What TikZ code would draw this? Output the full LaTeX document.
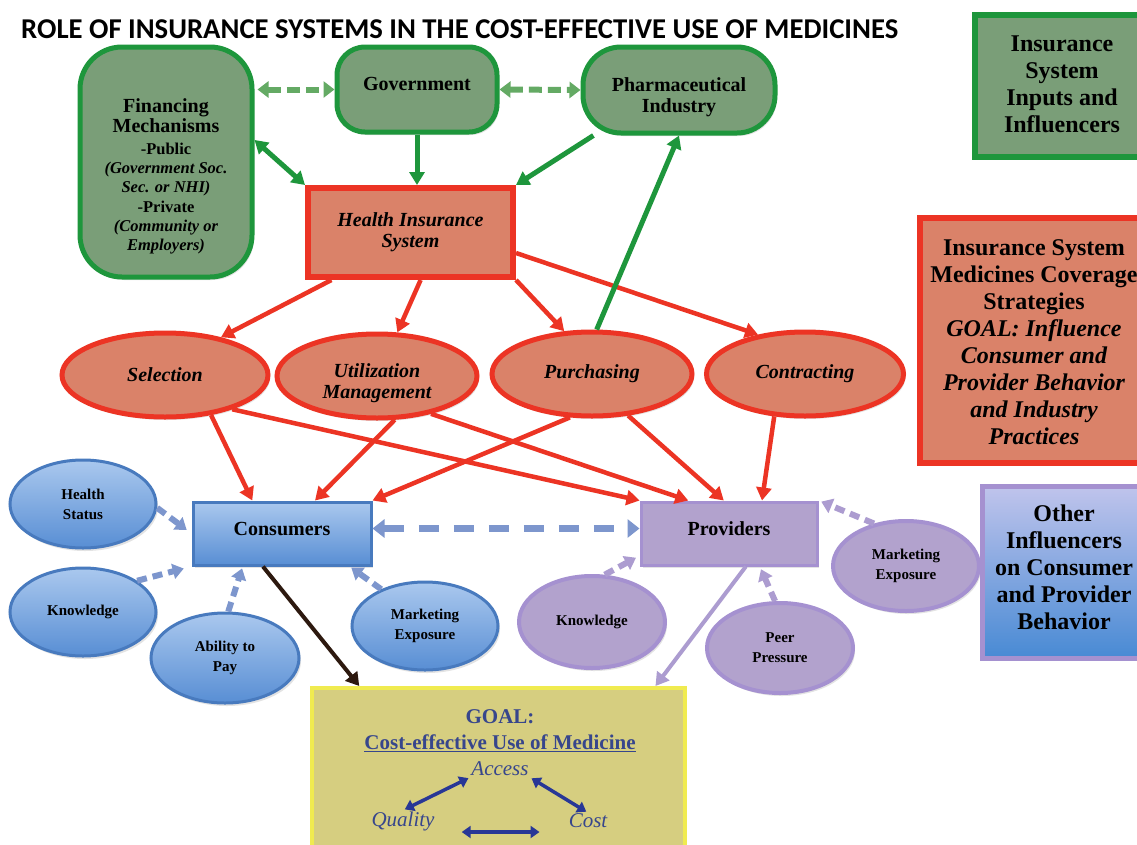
\documentclass[tikz,border=0pt]{standalone}
\usepackage{fontspec}
\setmainfont{Liberation Serif}
\newfontfamily\titlefont{Carlito}
\usetikzlibrary{arrows.meta,shapes.geometric,shadows}

\definecolor{grnF}{RGB}{122,158,120}
\definecolor{grnB}{RGB}{30,150,60}
\definecolor{grnD}{RGB}{100,170,100}
\definecolor{redF}{RGB}{218,130,105}
\definecolor{redB}{RGB}{236,52,36}
\definecolor{bluT}{RGB}{170,200,238}
\definecolor{bluM}{RGB}{88,142,212}
\definecolor{bluB}{RGB}{72,122,190}
\definecolor{purF}{RGB}{178,162,205}
\definecolor{purB}{RGB}{165,145,208}
\definecolor{purA}{RGB}{172,156,208}
\definecolor{dashB}{RGB}{125,150,205}
\definecolor{goalF}{RGB}{214,206,128}
\definecolor{goalB}{RGB}{240,235,80}
\definecolor{goalT}{RGB}{55,70,140}
\definecolor{goalA}{RGB}{40,55,150}
\definecolor{brn}{RGB}{45,25,15}
\definecolor{lgT}{RGB}{192,196,236}
\definecolor{lgB}{RGB}{72,138,212}

\newcommand\szM{\fontsize{20}{21}\selectfont}
\newcommand\szS{\fontsize{16.5}{19}\selectfont}
\newcommand\szE{\fontsize{15}{20}\selectfont}
\newcommand\szL{\fontsize{24}{27}\selectfont}
\newcommand\szG{\fontsize{21}{25}\selectfont}

\tikzset{
  shd/.style={drop shadow={shadow xshift=2pt,shadow yshift=-3pt,opacity=.22}},
  inbox/.style={draw=grnB, fill=grnF, line width=5pt, align=center, inner sep=0pt,
    font=\bfseries\szM, shd},
  txt/.style={align=center, inner sep=0pt},
  redell/.style={ellipse, draw=redB, fill=redF, line width=5pt, align=center,
    inner sep=0pt, font=\bfseries\itshape\szM, shd},
  bluell/.style={ellipse, draw=bluB, top color=bluT, bottom color=bluM, line width=3pt,
    align=center, inner sep=0pt, font=\bfseries\szE, shd},
  purell/.style={ellipse, draw=purB, fill=purF, line width=4pt,
    align=center, inner sep=0pt, font=\bfseries\szE, shd},
  redarr/.style={draw=redB, line width=4.5pt, -{Triangle[length=13pt,width=15pt]}},
  grnarr/.style={draw=grnB, line width=5pt, -{Triangle[length=13pt,width=15pt]}},
  grndash/.style={draw=grnD, line width=6pt, dash pattern=on 13pt off 6pt,
    {Triangle[length=11pt,width=16pt]}-{Triangle[length=11pt,width=16pt]}},
  bludash/.style={draw=dashB, line width=6pt, dash pattern=on 10pt off 6pt,
    -{Triangle[length=11pt,width=15pt]}},
  purdash/.style={draw=purA, line width=6pt, dash pattern=on 10pt off 6pt,
    -{Triangle[length=11pt,width=15pt]}},
  goalarr/.style={draw=goalA, line width=3.5pt,
    {Triangle[length=9pt,width=12pt]}-{Triangle[length=9pt,width=12pt]}},
  goaltxt/.style={text=goalT, inner sep=1pt}
}

\begin{document}
\begin{tikzpicture}[x=1pt,y=-1pt]
\useasboundingbox[fill=white] (0,0) rectangle (1137,844);

% title
\node[anchor=west, inner sep=0pt, font=\titlefont\bfseries\fontsize{28.7}{31}\selectfont]
  (title) at (21,29) {ROLE OF INSURANCE SYSTEMS IN THE COST-EFFECTIVE USE OF MEDICINES};

% inputs and influencers of the insurance system
\node[inbox, rounded corners=42pt, minimum width=172pt, minimum height=230pt] (fin) at (166,162) {};
\node[txt, font=\bfseries\szS] (finT) at (166,176)
  {{\szM Financing}\\[1pt]{\szM Mechanisms}\\[3pt]-Public\\{\itshape (Government Soc.}\\
   {\itshape Sec. or NHI)}\\[1pt]-Private\\{\itshape (Community or}\\{\itshape Employers)}};
\node[inbox, rounded corners=28pt, minimum width=160pt, minimum height=85pt] (gov) at (417,89.5) {};
\node[txt, font=\bfseries\szM] (govT) at (417,84) {Government};
\node[inbox, rounded corners=38pt, minimum width=192pt, minimum height=86pt] (pharma) at (679,90) {};
\node[txt, font=\bfseries\szM] (pharmaT) at (679,97) {Pharmaceutical\\Industry};

% insurance system and its strategies
\node[draw=redB, fill=redF, line width=6pt, minimum width=205pt, minimum height=89pt,
  align=center, inner sep=0pt, font=\bfseries\itshape\szM, shd] (his) at (410.5,232.5)
  {Health Insurance\\System};
\node[redell, minimum width=206pt, minimum height=84pt] (sel) at (165,375) {Selection};
\node[redell, minimum width=200pt, minimum height=84pt] (util) at (377,376) {};
\node[txt, font=\bfseries\itshape\szM] (utilT) at (377,383) {Utilization\\Management};
\node[redell, minimum width=200pt, minimum height=84pt] (purch) at (592,374) {Purchasing};
\node[redell, minimum width=197pt, minimum height=84pt] (contr) at (805,374) {Contracting};

% consumers and providers
\node[draw=bluB, top color=bluT, bottom color=bluM, line width=3pt, minimum width=178pt,
  minimum height=63pt, inner sep=0pt, shd] (cons) at (282,533.5) {};
\node[txt, font=\bfseries\szM] (consT) at (282,529) {Consumers};
\node[draw=purB, fill=purF, line width=3pt, minimum width=176pt,
  minimum height=63pt, inner sep=0pt, shd] (prov) at (729,533.5) {};
\node[txt, font=\bfseries\szM] (provT) at (729,529) {Providers};

\node[bluell, minimum width=146pt, minimum height=88pt] (hs) at (83,504) {Health\\Status};
\node[bluell, minimum width=146pt, minimum height=88pt] (kn1) at (83,612) {Knowledge};
\node[bluell, minimum width=148pt, minimum height=90pt] (ab) at (225,658) {Ability to\\Pay};
\node[bluell, minimum width=146pt, minimum height=88pt] (mk1) at (425,626) {Marketing\\Exposure};

\node[purell, minimum width=146pt, minimum height=92pt] (kn2) at (592,622) {Knowledge};
\node[purell, minimum width=146pt, minimum height=90pt] (peer) at (780,648) {Peer\\Pressure};
\node[purell, minimum width=146pt, minimum height=90pt] (mk2) at (906,566) {Marketing\\Exposure};

% goal
\node[draw=goalB, fill=goalF, line width=4pt, minimum width=373pt, minimum height=170pt, shd]
  (goal) at (498.5,773) {};
\node[goaltxt, font=\bfseries\szG] (goalH) at (500,717) {GOAL:};
\node[goaltxt, font=\bfseries\szG] (goalU) at (500,743) {\underline{Cost-effective Use of Medicine}};
\node[goaltxt, font=\itshape\szG] (access) at (500,769) {Access};
\node[goaltxt, font=\itshape\szG] (quality) at (403,821) {Quality};
\node[goaltxt, font=\itshape\szG] (cost) at (588,821) {Cost};

% legend boxes
\node[draw=grnB, fill=grnF, line width=6pt, minimum width=168pt, minimum height=142pt, shd]
  (leg1) at (1059,86) {};
\node[txt, font=\bfseries\szL] (leg1T) at (1062,84)
  {Insurance\\System\\Inputs and\\Influencers};
\node[draw=redB, fill=redF, line width=6pt, minimum width=222pt, minimum height=245pt, shd]
  (leg2) at (1031,340.5) {};
\node[txt, font=\bfseries\szL] (leg2T) at (1034,342)
  {Insurance System\\Medicines Coverage\\Strategies\\{\itshape GOAL: Influence}\\
   {\itshape Consumer and}\\{\itshape Provider Behavior}\\{\itshape and Industry}\\{\itshape Practices}};
\node[draw=purB, top color=lgT, bottom color=lgB, line width=5pt, minimum width=160pt,
  minimum height=172pt, shd] (leg3) at (1062,572) {};
\node[txt, font=\bfseries\szL] (leg3T) at (1064,567)
  {Other\\Influencers\\on Consumer\\and Provider\\Behavior};

% input links
\draw[grndash] (fin.east |- gov) ++(3,0) coordinate (fg) (fg) -- (gov.west);
\draw[grndash] (gov.east) -- (pharma.west);
\draw[grnarr, {Triangle[length=13pt,width=15pt]}-{Triangle[length=13pt,width=15pt]}]
  (fin.14) -- (his.north west);
\draw[grnarr] (gov.south) -- (gov.south |- his.north);
\draw[grnarr] (pharma.208) -- (his.north east);

% strategies
\draw[redarr] (his.211) -- (sel.34);
\draw[redarr] (his.-78) -- (util.65);
\draw[redarr] (his.south east) -- (purch.123);
\draw[redarr] (his.-11) -- (contr.140);

\draw[redarr] (sel.-41) -- (cons.132);
\draw[redarr] (sel.-27) -- (prov.north west);
\draw[redarr] (util.-68) -- (cons.45);
\draw[redarr] (util.-35) -- (prov.141);
\draw[redarr] (purch.243) -- (cons.north east);
\draw[redarr] (purch.-49) -- (prov.99);
\draw[redarr] (contr.234) -- (prov.45);

\draw[grnarr] (purch.84) -- (pharma.south);

% other influencers
\draw[bludash, shorten >=6pt] (hs.-3) -- (cons.west);
\draw[bludash, shorten >=8pt] (kn1.30) -- (cons.south west);
\draw[bludash, shorten >=2pt] (ab.86) -- (cons.220);
\draw[bludash, shorten >=2pt] (mk1.140) -- (cons.-26);
\draw[draw=dashB, line width=7pt, dash pattern=on 20pt off 15pt,
  {Triangle[length=12pt,width=18pt]}-{Triangle[length=12pt,width=18pt]}]
  ([yshift=5pt]cons.east) -- ([yshift=5pt]prov.west);

\draw[purdash, shorten >=4pt] (kn2.75) -- (prov.194);
\draw[purdash, shorten >=3pt] (peer.96) -- (prov.-47);
\draw[purdash, shorten >=3pt] (mk2.127) -- (prov.north east);

% toward the goal
\draw[draw=purA, line width=4pt, -{Triangle[length=13pt,width=15pt]}] (prov.-63) -- (goal.29);
\draw[draw=brn, line width=4pt, -{Triangle[length=13pt,width=15pt]}] (cons.240) -- (goal.148);

\draw[goalarr, shorten <=2pt, shorten >=2pt] (quality.north) -- (access.south west);
\draw[goalarr, shorten <=2pt, shorten >=2pt] (access.south east) -- (cost.north);
\draw[goalarr, shorten <=26pt, shorten >=28pt] ([yshift=-11pt]quality.east) -- ([yshift=-11pt]cost.west);
\end{tikzpicture}
\end{document}
